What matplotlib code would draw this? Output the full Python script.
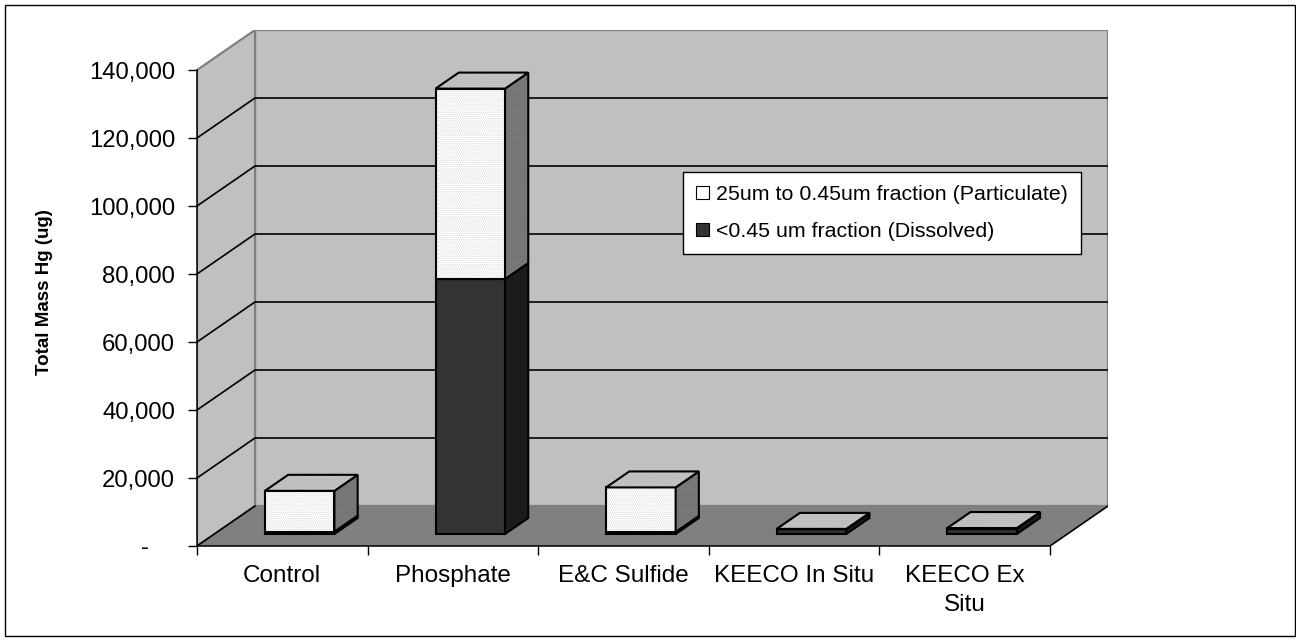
import matplotlib
matplotlib.use("Agg")
import matplotlib.pyplot as plt
from matplotlib.patches import Polygon, Patch, Rectangle
from matplotlib.ticker import FuncFormatter
import numpy as np

# ---- data -------------------------------------------------------------
categories = ["Control", "Phosphate", "E&C Sulfide", "KEECO In Situ", "KEECO Ex\nSitu"]
dissolved = [700, 75000, 600, 1400, 1600]        # <0.45 um fraction
particulate = [12000, 56000, 13100, 100, 150]    # 25 um to 0.45 um fraction
series_labels = ["25um to 0.45um fraction (Particulate)", "<0.45 um fraction (Dissolved)"]
y_ticks = [0, 20000, 40000, 60000, 80000, 100000, 120000, 140000]
y_label = "Total Mass Hg (ug)"

# ---- figure -----------------------------------------------------------
plt.rcParams['font.family'] = ['Liberation Sans', 'DejaVu Sans']
plt.rcParams['hatch.linewidth'] = 0.6

W, H, DPI = 1296, 642, 100
fig = plt.figure(figsize=(W / DPI, H / DPI), dpi=DPI)

ncat = len(categories)
ymax = y_ticks[-1]

# pseudo-3D frame: front plane size and depth offset (pixels)
left_px, bottom_px = 197, 96
cat_px = 170.6
val_px = 68.0 / 20000
depth_px = (58.0, 40.0)
DX = depth_px[0] / cat_px          # depth offset in category units
DY = depth_px[1] / val_px          # depth offset in value units

ax_w = cat_px * ncat + depth_px[0]
ax_h = val_px * ymax + depth_px[1]
ax = fig.add_axes([left_px / W, bottom_px / H, ax_w / W, ax_h / H])
ax.set_xlim(0, ncat + DX)
ax.set_ylim(0, ymax + DY)
ax.patch.set_visible(False)

wall_c, floor_c, wall_edge = '#c0c0c0', '#808080', '#808080'

# back wall, side wall, floor
ax.add_patch(Polygon([(DX, DY), (ncat + DX, DY), (ncat + DX, ymax + DY), (DX, ymax + DY)],
                     closed=True, fc=wall_c, ec=wall_edge, lw=1.6, zorder=0))
ax.add_patch(Polygon([(0, 0), (DX, DY), (DX, ymax + DY), (0, ymax)],
                     closed=True, fc=wall_c, ec=wall_edge, lw=1.6, zorder=0))
ax.add_patch(Polygon([(0, 0), (ncat, 0), (ncat + DX, DY), (DX, DY)],
                     closed=True, fc=floor_c, ec='none', zorder=0.5))

# gridlines wrapped over side wall and back wall
for v in y_ticks[1:-1]:
    ax.plot([0, DX, ncat + DX], [v, v + DY, v + DY], color='black', lw=1.2, zorder=1)
ax.plot([0, DX], [0, DY], color='black', lw=1.2, zorder=1)
ax.plot([ncat, ncat + DX], [0, DY], color='black', lw=1.2, zorder=1)

# ---- stacked 3D bars ---------------------------------------------------
bar_w = 69.5 / cat_px
f0, f1 = 0.3, 0.7                  # bar depth range within the floor
ddx, ddy = (f1 - f0) * DX, (f1 - f0) * DY

styles = [
    dict(front='#ffffff', side='#7c7c7c', top='#c6c6c6',
         dots=('#d8d8d8', '#6a6a6a', '#b0b0b0')),
    dict(front='#333333', side='#1c1c1c', top='#2a2a2a', dots=None),
]


def draw_face(pts, fc, dot_color, z):
    ax.add_patch(Polygon(pts, closed=True, fc=fc, ec='none', zorder=z, clip_on=False))
    if dot_color is not None:
        ax.add_patch(Polygon(pts, closed=True, fill=False, hatch='........',
                             ec=dot_color, lw=0, zorder=z, clip_on=False))
    ax.add_patch(Polygon(pts, closed=True, fill=False, ec='black', lw=1.5,
                         joinstyle='miter', zorder=z, clip_on=False))


def draw_box(x0, y0, y1, st, z):
    x1 = x0 + bar_w
    dots = st['dots'] or (None, None, None)
    draw_face([(x0, y0), (x1, y0), (x1, y1), (x0, y1)], st['front'], dots[0], z)
    draw_face([(x1, y0), (x1 + ddx, y0 + ddy), (x1 + ddx, y1 + ddy), (x1, y1)],
              st['side'], dots[1], z)
    draw_face([(x0, y1), (x1, y1), (x1 + ddx, y1 + ddy), (x0 + ddx, y1 + ddy)],
              st['top'], dots[2], z)


for i in range(ncat):
    x0 = i + 0.5 - bar_w / 2 + f0 * DX
    base = f0 * DY
    d, p = dissolved[i], particulate[i]
    draw_box(x0, base, base + d, styles[1], 3 + i * 0.1)
    draw_box(x0, base + d, base + d + p, styles[0], 3.05 + i * 0.1)

# ---- axes --------------------------------------------------------------
for s in ('top', 'right'):
    ax.spines[s].set_visible(False)
ax.spines['left'].set_bounds(0, ymax)
ax.spines['bottom'].set_bounds(0, ncat)
for s in ('left', 'bottom'):
    ax.spines[s].set_linewidth(1.1)
    ax.spines[s].set_zorder(2)

ax.set_yticks(y_ticks)
ax.yaxis.set_major_formatter(FuncFormatter(lambda v, p: f"{v:,.0f}" if v else "-    "))
ax.set_xticks(range(ncat + 1))
ax.set_xticklabels([])
ax.set_xticks(np.arange(ncat) + 0.5, minor=True)
ax.set_xticklabels(categories, minor=True, linespacing=1.45)
ax.tick_params(axis='both', which='major', direction='out', length=6.5, width=1.0,
               labelsize=17.2, pad=9.2, colors='black')
ax.tick_params(axis='x', which='minor', length=0, labelsize=17.5, pad=13.5)

fig.text(45 / W, 1 - 292.5 / H, y_label, rotation=90, fontsize=13.5,
         fontweight='bold', ha='center', va='center')

# ---- legend ------------------------------------------------------------
handles = [Patch(fc=styles[0]['front'], ec='black', lw=0.8),
           Patch(fc=styles[1]['front'], ec='black', lw=0.8)]
leg = fig.legend(handles, series_labels, loc='upper left',
                 bbox_to_anchor=(683 / W, 1 - 172 / H), bbox_transform=fig.transFigure,
                 fontsize=15.4, frameon=True, fancybox=False, shadow=False, framealpha=1,
                 borderaxespad=0, borderpad=0.6, labelspacing=0.85,
                 handlelength=0.6, handleheight=0.6, handletextpad=0.35)
leg.get_frame().set_edgecolor('black')
leg.get_frame().set_facecolor('white')
leg.get_frame().set_linewidth(1.0)
leg.set_zorder(10)

# chart border
fig.add_artist(Rectangle((5 / W, 6 / H), 1290 / W, 631 / H, transform=fig.transFigure,
                         fill=False, ec='black', lw=1.0))

fig.savefig("out.png", dpi=DPI)
